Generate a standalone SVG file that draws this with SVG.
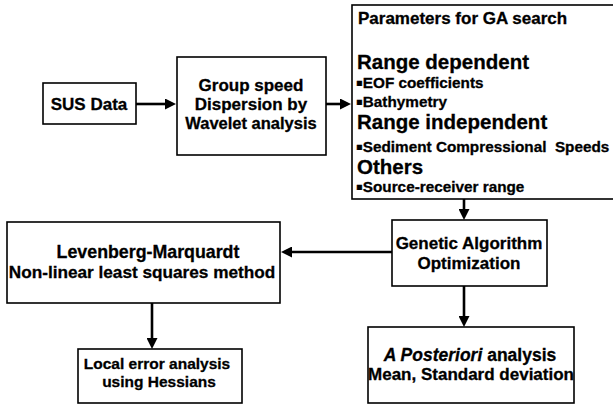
<svg xmlns="http://www.w3.org/2000/svg" width="613" height="406" viewBox="0 0 613 406">
<style>
.box{fill:#fff;stroke:#000;stroke-width:1.6}
.t{font-family:"Liberation Sans",Arial,sans-serif;font-weight:bold;fill:#000;stroke:#000;stroke-width:0.3}
.c{text-anchor:middle}
.h{font-size:20.5px}
.b{font-size:15.3px}
.bl{font-size:10px;font-family:"DejaVu Sans",sans-serif}
.conn line{stroke:#000;stroke-width:2.6}
</style>
<defs>
<marker id="ah" markerUnits="userSpaceOnUse" markerWidth="11" markerHeight="11" refX="2" refY="5.5" orient="auto">
<path d="M0,0 L11,5.5 L0,11 z" fill="#000"/>
</marker>
</defs>
<rect width="613" height="406" fill="#fff"/>
<g id="sus">
<rect class="box" x="43" y="83" width="93" height="41"/>
<text class="t c" x="89" y="110" font-size="17">SUS Data</text>
</g>
<g id="group">
<rect class="box" x="177" y="57" width="149" height="98"/>
<text class="t c" x="251" y="91" font-size="17">Group speed</text>
<text class="t c" x="251" y="110" font-size="17">Dispersion by</text>
<text class="t c" x="251" y="129" font-size="16.5">Wavelet analysis</text>
</g>
<g id="params">
<rect class="box" x="352" y="5" width="262" height="194"/>
<text class="t" x="358" y="24" font-size="17">Parameters for GA search</text>
<text class="t h" x="357" y="69">Range dependent</text>
<text class="t b" x="356" y="88"><tspan class="bl" dy="-2.5">▪</tspan><tspan dy="2.5">EOF coefficients</tspan></text>
<text class="t b" x="356" y="107"><tspan class="bl" dy="-2.5">▪</tspan><tspan dy="2.5">Bathymetry</tspan></text>
<text class="t h" x="357" y="129">Range independent</text>
<text class="t b" x="356" y="152"><tspan class="bl" dy="-2.5">▪</tspan><tspan dy="2.5" xml:space="preserve">Sediment Compressional  Speeds</tspan></text>
<text class="t h" x="357" y="174">Others</text>
<text class="t b" x="356" y="192"><tspan class="bl" dy="-2.5">▪</tspan><tspan dy="2.5">Source-receiver range</tspan></text>
</g>
<g id="ga">
<rect class="box" x="392" y="220" width="155" height="66"/>
<text class="t c" x="469" y="249" font-size="17">Genetic Algorithm</text>
<text class="t c" x="469" y="269" font-size="17">Optimization</text>
</g>
<g id="lm">
<rect class="box" x="7" y="222" width="273" height="81"/>
<text class="t c" x="148" y="258" font-size="17.8">Levenberg-Marquardt</text>
<text class="t c" x="142" y="278" font-size="17.2">Non-linear least squares method</text>
</g>
<g id="local">
<rect class="box" x="78" y="349" width="164" height="54"/>
<text class="t c" x="157" y="369" font-size="15.5">Local error analysis</text>
<text class="t c" x="159" y="387" font-size="15.5">using Hessians</text>
</g>
<g id="apost">
<rect class="box" x="368" y="327" width="206" height="76"/>
<text class="t c" x="470" y="361" font-size="17.5"><tspan font-style="italic">A Posteriori</tspan> analysis</text>
<text class="t c" x="471" y="380" font-size="17">Mean, Standard deviation</text>
</g>
<g id="connectors" class="conn">
<line x1="136" y1="104" x2="167" y2="104" marker-end="url(#ah)"/>
<line x1="326" y1="104" x2="342" y2="104" marker-end="url(#ah)"/>
<line x1="464" y1="199" x2="464" y2="211" marker-end="url(#ah)"/>
<line x1="392" y1="252" x2="290" y2="252" marker-end="url(#ah)"/>
<line x1="152" y1="303" x2="152" y2="340" marker-end="url(#ah)"/>
<line x1="464" y1="286" x2="464" y2="318" marker-end="url(#ah)"/>
</g>
</svg>
